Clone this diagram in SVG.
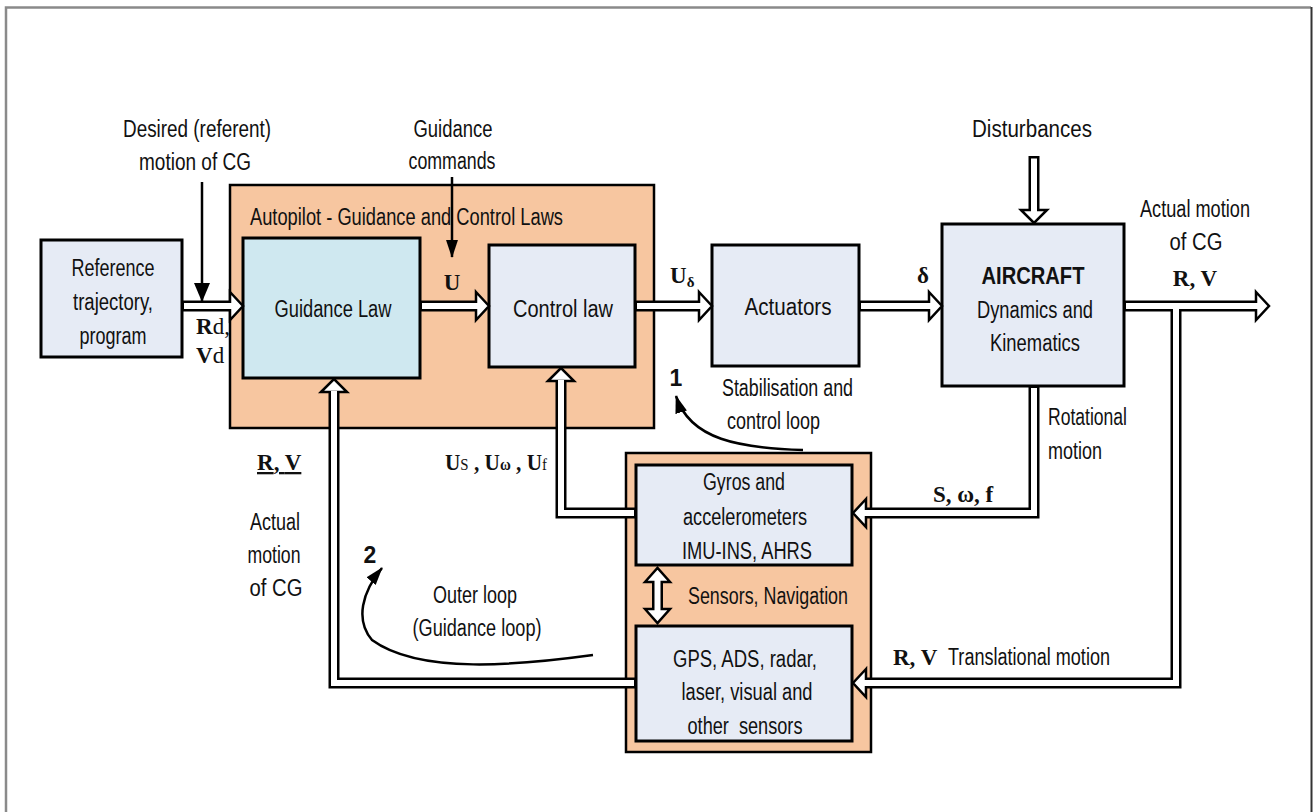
<svg xmlns="http://www.w3.org/2000/svg" width="1313" height="812" viewBox="0 0 1313 812">
<style>
.t{font-family:"Liberation Sans Narrow","Liberation Sans",Arial,sans-serif;font-size:23px;fill:#111}
.c{text-anchor:middle}
.b{font-weight:bold}
.s{font-family:"Liberation Serif","Times New Roman",serif;font-weight:bold;font-size:23px;fill:#111}
.box{fill:#e6ebf5;stroke:#000;stroke-width:3}
.cont{fill:#f7c6a0;stroke:#000;stroke-width:2.5}
.sk{fill:none;stroke:#000;stroke-width:11;stroke-linejoin:miter}
.sw{fill:none;stroke:#fff;stroke-width:6;stroke-linejoin:miter}
.hd{fill:#fff;stroke:#000;stroke-width:2.5;stroke-linejoin:miter}
.thin{fill:none;stroke:#000;stroke-width:2.5}
</style>
<defs>
<marker id="ah" viewBox="0 0 20 20" refX="19" refY="10" markerWidth="19" markerHeight="16" markerUnits="userSpaceOnUse" orient="auto" preserveAspectRatio="none">
<path d="M0,0 L20,10 L0,20 z" fill="#000"/>
</marker>
<marker id="ahs" viewBox="0 0 20 20" refX="19" refY="10" markerWidth="18" markerHeight="12" markerUnits="userSpaceOnUse" orient="auto" preserveAspectRatio="none">
<path d="M0,0 L20,10 L0,20 z" fill="#000"/>
</marker>
</defs>
<rect width="1313" height="812" fill="#fff"/>
<path d="M6,812 V7.5 H1311" fill="none" stroke="#8a8a8a" stroke-width="2.5"/>
<path d="M1311.5,7 V812" fill="none" stroke="#333" stroke-width="2"/>

<g id="autopilot">
<rect class="cont" x="230" y="185" width="424" height="243"/>
<text class="t" x="250" y="225" textLength="313" lengthAdjust="spacingAndGlyphs">Autopilot - Guidance and Control Laws</text>
</g>
<g id="sensors">
<rect class="cont" x="626" y="453" width="245" height="299"/>
<text class="t" x="688" y="604" textLength="160" lengthAdjust="spacingAndGlyphs">Sensors, Navigation</text>
</g>
<g id="reference">
<rect class="box" x="41" y="240" width="141" height="117"/>
<text class="t c" x="113" y="276" textLength="83" lengthAdjust="spacingAndGlyphs">Reference</text>
<text class="t c" x="113" y="310" textLength="80" lengthAdjust="spacingAndGlyphs">trajectory,</text>
<text class="t c" x="113" y="344" textLength="67" lengthAdjust="spacingAndGlyphs">program</text>
</g>
<g id="guidance">
<rect class="box" x="243" y="238" width="177" height="140" style="fill:#cfe8f0"/>
<text class="t c" x="333" y="317" textLength="117" lengthAdjust="spacingAndGlyphs">Guidance Law</text>
</g>
<g id="control">
<rect class="box" x="489" y="245" width="146" height="122"/>
<text class="t c" x="563" y="317" textLength="100" lengthAdjust="spacingAndGlyphs">Control law</text>
</g>
<g id="actuators">
<rect class="box" x="712" y="245" width="147" height="121"/>
<text class="t c" x="788" y="315" textLength="87" lengthAdjust="spacingAndGlyphs">Actuators</text>
</g>
<g id="aircraft">
<rect class="box" x="942" y="224" width="182" height="162"/>
<text class="t c b" x="1033" y="284" textLength="103" lengthAdjust="spacingAndGlyphs">AIRCRAFT</text>
<text class="t c" x="1035" y="318" textLength="116" lengthAdjust="spacingAndGlyphs">Dynamics and</text>
<text class="t c" x="1035" y="351" textLength="90" lengthAdjust="spacingAndGlyphs">Kinematics</text>
</g>
<g id="gyros">
<rect class="box" x="636" y="465" width="216" height="100"/>
<text class="t c" x="744" y="490" textLength="82" lengthAdjust="spacingAndGlyphs">Gyros and</text>
<text class="t c" x="745" y="525" textLength="124" lengthAdjust="spacingAndGlyphs">accelerometers</text>
<text class="t c" x="747" y="559" textLength="130" lengthAdjust="spacingAndGlyphs">IMU-INS, AHRS</text>
</g>
<g id="gps">
<rect class="box" x="636" y="626" width="216" height="115"/>
<text class="t c" x="745" y="667" textLength="144" lengthAdjust="spacingAndGlyphs">GPS, ADS, radar,</text>
<text class="t c" x="747" y="700" textLength="131" lengthAdjust="spacingAndGlyphs">laser, visual and</text>
<text class="t c" x="745" y="734" xml:space="preserve" textLength="115" lengthAdjust="spacingAndGlyphs">other  sensors</text>
</g>

<g id="connectors">
<path class="sk" d="M182,306 H232"/>
<path class="sk" d="M420,306 H478"/>
<path class="sk" d="M635,306 H701"/>
<path class="sk" d="M859,306 H931"/>
<path class="sk" d="M1124,306 H1258 M1176,306 V683 H863"/>
<path class="sk" d="M1034,386 V513 H863"/>
<path class="sk" d="M636,513 H561 V379"/>
<path class="sk" d="M636,683 H334 V390"/>
<path class="sk" d="M1034,156 V212"/>
<path class="sk" d="M657.5,580 V611"/>
<polygon class="hd" points="230,292 243,306 230,320"/>
<polygon class="hd" points="476,292 489,306 476,320"/>
<polygon class="hd" points="699,292 712,306 699,320"/>
<polygon class="hd" points="929,292 942,306 929,320"/>
<polygon class="hd" points="1256,292 1269,306 1256,320"/>
<polygon class="hd" points="866,669 853,683 866,697"/>
<polygon class="hd" points="866,499 853,513 866,527"/>
<polygon class="hd" points="548,381 561,368 574,381"/>
<polygon class="hd" points="321,392 334,379 347,392"/>
<polygon class="hd" points="1021,210 1034,223 1047,210"/>
<polygon class="hd" points="645,582 657.5,568 670,582"/>
<polygon class="hd" points="645,609 657.5,623 670,609"/>
<path class="sw" d="M184,306 H233"/>
<path class="sw" d="M422,306 H479"/>
<path class="sw" d="M637,306 H702"/>
<path class="sw" d="M861,306 H932"/>
<path class="sw" d="M1126,306 H1259 M1176,306 V683 H864"/>
<path class="sw" d="M1034,388 V513 H864"/>
<path class="sw" d="M634,513 H561 V380"/>
<path class="sw" d="M634,683 H334 V391"/>
<path class="sw" d="M1034,158.5 V213"/>
<path class="sw" d="M657.5,580 V611"/>
<path class="thin" d="M202,182 V301" marker-end="url(#ah)"/>
<path class="thin" d="M452,177 V257" marker-end="url(#ahs)"/>
<path class="thin" d="M803,450 C740,448 690,440 676,396" marker-end="url(#ahs)"/>
<path class="thin" d="M593,655 C520,665 420,675 372,640 C355,620 362,592 382,568" marker-end="url(#ahs)"/>
</g>

<g id="labels">
<text class="t c" x="197" y="137" textLength="148" lengthAdjust="spacingAndGlyphs">Desired (referent)</text>
<text class="t c" x="195" y="170" textLength="112" lengthAdjust="spacingAndGlyphs">motion of CG</text>
<text class="t c" x="453" y="137" textLength="79" lengthAdjust="spacingAndGlyphs">Guidance</text>
<text class="t c" x="452" y="169" textLength="87" lengthAdjust="spacingAndGlyphs">commands</text>
<text class="t c" x="1032" y="137" textLength="120" lengthAdjust="spacingAndGlyphs">Disturbances</text>
<text class="t c" x="1195" y="217" textLength="110" lengthAdjust="spacingAndGlyphs">Actual motion</text>
<text class="t c" x="1196" y="250" textLength="53" lengthAdjust="spacingAndGlyphs">of CG</text>
<text class="s" x="1195" y="286" text-anchor="middle">R, V</text>
<text class="s" x="452" y="290" text-anchor="middle">U</text>
<text class="s" x="670" y="283">U<tspan font-size="15" dy="4">δ</tspan></text>
<text class="s" x="923" y="283" text-anchor="middle">δ</text>
<text class="s" x="196" y="334">R<tspan font-weight="normal">d,</tspan></text>
<text class="s" x="196" y="363">V<tspan font-weight="normal">d</tspan></text>
<text class="t" x="722" y="396" textLength="131" lengthAdjust="spacingAndGlyphs">Stabilisation and</text>
<text class="t" x="727" y="429" textLength="93" lengthAdjust="spacingAndGlyphs">control loop</text>
<text class="t b c" x="676" y="386">1</text>
<text class="t" x="1048" y="425" textLength="79" lengthAdjust="spacingAndGlyphs">Rotational</text>
<text class="t" x="1048" y="459" textLength="54" lengthAdjust="spacingAndGlyphs">motion</text>
<text class="s" x="933" y="502">S, ω, f</text>
<text class="s" x="893" y="665">R, V</text>
<text class="t" x="948" y="665" textLength="162" lengthAdjust="spacingAndGlyphs">Translational motion</text>
<text class="s" x="257" y="470" text-decoration="underline">R<tspan text-decoration="none">, </tspan>V</text>
<text class="s" x="445" y="470" textLength="102" lengthAdjust="spacingAndGlyphs">U<tspan font-weight="normal" font-size="16">S</tspan> , U<tspan font-size="16">ω</tspan> , U<tspan font-weight="normal" font-size="16">f</tspan></text>
<text class="t c" x="275" y="530" textLength="50" lengthAdjust="spacingAndGlyphs">Actual</text>
<text class="t c" x="274" y="563" textLength="53" lengthAdjust="spacingAndGlyphs">motion</text>
<text class="t c" x="276" y="596" textLength="53" lengthAdjust="spacingAndGlyphs">of CG</text>
<text class="t b c" x="370" y="563">2</text>
<text class="t c" x="475" y="603" textLength="84" lengthAdjust="spacingAndGlyphs">Outer loop</text>
<text class="t c" x="477" y="636" textLength="129" lengthAdjust="spacingAndGlyphs">(Guidance loop)</text>
</g>
</svg>
